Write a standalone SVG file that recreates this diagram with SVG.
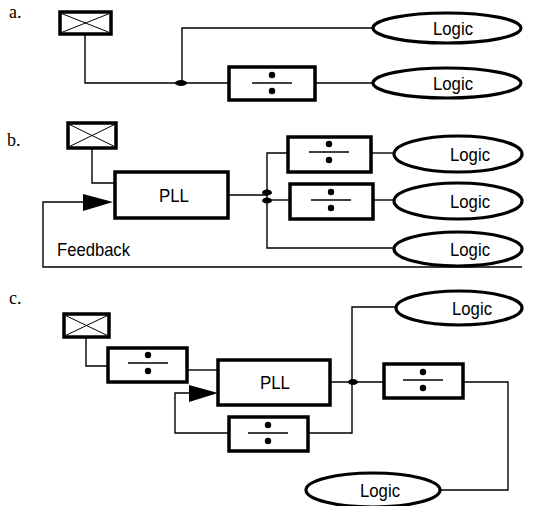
<svg xmlns="http://www.w3.org/2000/svg" width="533" height="506" viewBox="0 0 533 506">
<style>
.w{stroke:#000;stroke-width:1.4;fill:none}
.box{stroke:#000;stroke-width:3.5;fill:#fff}
.ell{stroke:#000;stroke-width:3.2;fill:#fff}
.xb{stroke:#000;stroke-width:1}
.t{font-family:"Liberation Sans",Arial,sans-serif;font-size:19px;fill:#000}
.lab{font-family:"Liberation Serif","Times New Roman",serif;font-size:18px;fill:#000}
</style>
<defs>
<g id="div"><circle cx="0" cy="-8" r="3.2"/><line x1="-20" y1="0" x2="20" y2="0" stroke="#000" stroke-width="1.4"/><circle cx="0" cy="8" r="3.2"/></g>
</defs>
<text class="lab" x="9" y="18">a.</text>
<text class="lab" x="7" y="146">b.</text>
<text class="lab" x="9" y="304">c.</text>

<g id="connectors">
<!-- a -->
<polyline class="w" points="85,34 85,83 228,83"/>
<polyline class="w" points="182,83 182,28 374,28"/>
<line class="w" x1="315" y1="83" x2="374" y2="83"/>
<ellipse cx="181" cy="83" rx="6" ry="3" fill="#000"/>
<!-- b -->
<polyline class="w" points="92,148 92,183 114,183"/>
<line class="w" x1="228" y1="195" x2="267" y2="195"/>
<polyline class="w" points="287,153 267,153 267,248 395,248"/>
<line class="w" x1="267" y1="200" x2="289" y2="200"/>
<line class="w" x1="371" y1="153" x2="395" y2="153"/>
<line class="w" x1="373" y1="200" x2="395" y2="200"/>
<polyline class="w" points="84,202 43,202 43,267 522,267"/>
<polygon points="83,194 113,202 83,211" fill="#000"/>
<ellipse cx="267" cy="192.5" rx="5" ry="3" fill="#000"/>
<ellipse cx="267" cy="200.5" rx="5" ry="3" fill="#000"/>
<!-- c -->
<polyline class="w" points="86,337 86,366 108,366"/>
<line class="w" x1="187" y1="370" x2="218" y2="370"/>
<polyline class="w" points="190,393 175,393 175,433 229,433"/>
<polygon points="189,385 218,393 189,402" fill="#000"/>
<line class="w" x1="330" y1="382" x2="386" y2="382"/>
<polyline class="w" points="308,433 352,433 352,307 396,307"/>
<ellipse cx="353" cy="382" rx="5" ry="3" fill="#000"/>
<polyline class="w" points="463,382 508,382 508,490 440,490"/>
</g>

<!-- a nodes -->
<g id="a-xtal"><rect class="box" x="60" y="12" width="51" height="22" stroke-width="3"/><path class="xb" d="M61.5,13.5 L109.5,32.5 M61.5,32.5 L109.5,13.5"/></g>
<g id="a-div"><rect class="box" x="229" y="67" width="86" height="33"/><use href="#div" x="272" y="83"/></g>
<g id="a-logic1"><ellipse class="ell" cx="447" cy="28" rx="74" ry="15"/><text class="t" x="453" y="35" text-anchor="middle" textLength="40" lengthAdjust="spacingAndGlyphs">Logic</text></g>
<g id="a-logic2"><ellipse class="ell" cx="447" cy="83" rx="74" ry="15"/><text class="t" x="453" y="90" text-anchor="middle" textLength="40" lengthAdjust="spacingAndGlyphs">Logic</text></g>

<!-- b nodes -->
<g id="b-xtal"><rect class="box" x="68" y="123" width="48" height="25" stroke-width="3"/><path class="xb" d="M69.5,124.5 L114.5,146.5 M69.5,146.5 L114.5,124.5"/></g>
<g id="b-pll"><rect class="box" x="115" y="172" width="113" height="46"/><text class="t" x="174" y="202" text-anchor="middle" textLength="30" lengthAdjust="spacingAndGlyphs">PLL</text></g>
<g id="b-div1"><rect class="box" x="288" y="137" width="83" height="35"/><use href="#div" x="329" y="152"/></g>
<g id="b-div2"><rect class="box" x="290" y="184" width="83" height="35"/><use href="#div" x="331" y="200"/></g>
<g id="b-logic1"><ellipse class="ell" cx="458" cy="154" rx="64" ry="18"/><text class="t" x="470" y="161" text-anchor="middle" textLength="40" lengthAdjust="spacingAndGlyphs">Logic</text></g>
<g id="b-logic2"><ellipse class="ell" cx="458" cy="201" rx="64" ry="18"/><text class="t" x="470" y="208" text-anchor="middle" textLength="40" lengthAdjust="spacingAndGlyphs">Logic</text></g>
<g id="b-logic3"><ellipse class="ell" cx="458" cy="249" rx="64" ry="17"/><text class="t" x="470" y="256" text-anchor="middle" textLength="40" lengthAdjust="spacingAndGlyphs">Logic</text></g>
<text class="t" x="57" y="256" textLength="73" lengthAdjust="spacingAndGlyphs">Feedback</text>

<!-- c nodes -->
<g id="c-xtal"><rect class="box" x="64" y="314" width="45" height="23" stroke-width="3"/><path class="xb" d="M65.5,315.5 L107.5,335.5 M65.5,335.5 L107.5,315.5"/></g>
<g id="c-div1"><rect class="box" x="108" y="348" width="79" height="34"/><use href="#div" x="148" y="363"/></g>
<g id="c-pll"><rect class="box" x="218" y="360" width="112" height="45"/><text class="t" x="275" y="389" text-anchor="middle" textLength="30" lengthAdjust="spacingAndGlyphs">PLL</text></g>
<g id="c-div2"><rect class="box" x="229" y="417" width="79" height="34"/><use href="#div" x="268" y="433"/></g>
<g id="c-div3"><rect class="box" x="384" y="364" width="79" height="34"/><use href="#div" x="423" y="380"/></g>
<g id="c-logic1"><ellipse class="ell" cx="459" cy="308" rx="63" ry="17"/><text class="t" x="472" y="315" text-anchor="middle" textLength="40" lengthAdjust="spacingAndGlyphs">Logic</text></g>
<g id="c-logic2"><ellipse class="ell" cx="373" cy="490" rx="67" ry="17"/><text class="t" x="380" y="497" text-anchor="middle" textLength="40" lengthAdjust="spacingAndGlyphs">Logic</text></g>
</svg>
